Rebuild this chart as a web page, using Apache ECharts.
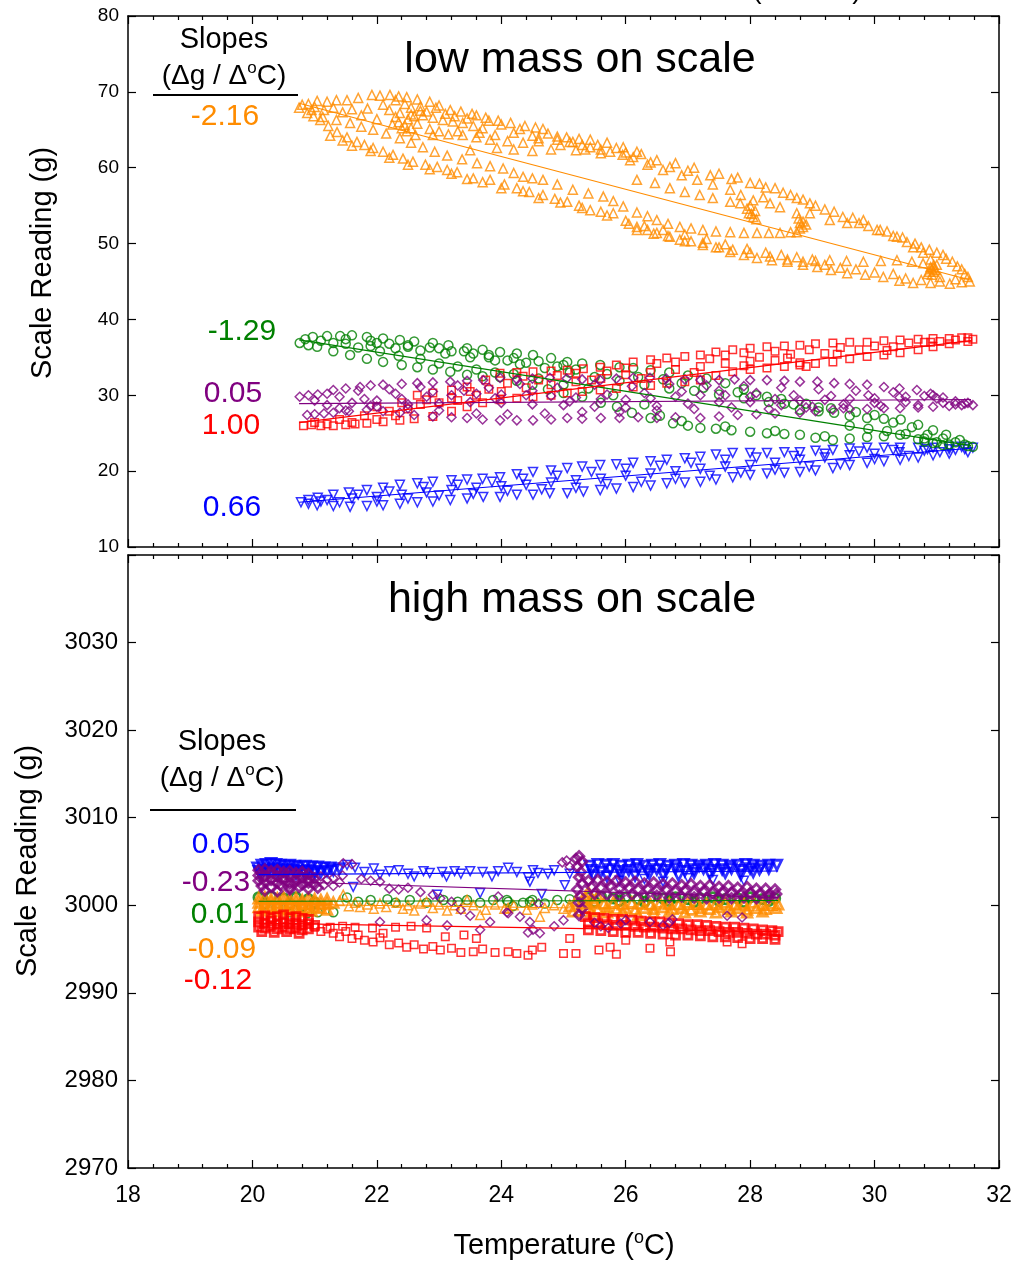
<!DOCTYPE html>
<html>
<head>
<meta charset="utf-8">
<script src="https://cdn.jsdelivr.net/npm/echarts/dist/echarts.min.js"></script>
<style>
html, body { margin: 0; padding: 0; background: #fff; }
#chart { width: 1018px; height: 1263px; }
</style>
</head>
<body>
<div id="chart"></div>
<script>
// ---------- shared axis settings ----------
const xTicks = [18, 20, 22, 24, 26, 28, 30, 32];
const topYTicks = [10, 20, 30, 40, 50, 60, 70, 80];
const bottomYTicks = [2970, 2980, 2990, 3000, 3010, 3020, 3030, 3040];

// ---------- low mass on scale: readings (g) vs temperature (°C) ----------
const topOrangeOuterUpper = [[20.75,67.9],[20.9,68.4],[21.04,68.8],[21.2,68.7],[21.35,68.9],[21.52,68.9],[21.7,69.2],[21.92,69.6],[22.05,69.5],[22.21,69.6],[22.35,69.4],[22.48,69.3],[22.65,69.0],[22.85,68.7],[23.0,68.2],[23.18,67.6],[23.35,67.4],[23.53,67.1],[23.75,66.6],[23.95,66.2],[24.15,65.9],[24.38,65.5],[24.55,65.3],[24.67,65.1],[24.9,64.1],[25.1,63.4],[25.3,63.0],[25.43,62.7],[25.6,62.4],[25.75,62.1],[25.95,61.7],[26.12,61.4],[26.4,60.7],[26.71,60.1],[27.0,59.6],[27.36,59.0],[27.7,58.5],[28.0,58.0],[28.25,57.4],[28.53,56.7],[28.75,56.0],[28.96,55.3],[29.2,54.5],[29.49,53.5],[29.75,52.7],[30.04,51.8],[30.3,51.0],[30.52,50.2],[30.75,49.5],[31.0,48.8],[31.15,48.0],[31.33,47.0],[31.45,46.0],[31.53,45.0]];
const topOrangeOuterLower = [[20.88,67.2],[20.98,66.8],[21.09,66.3],[21.22,65.5],[21.36,64.7],[21.52,64.0],[21.68,63.4],[21.8,63.0],[21.94,62.6],[22.1,62.1],[22.26,61.7],[22.42,61.2],[22.58,60.8],[22.78,60.4],[22.97,60.1],[23.13,59.7],[23.29,59.4],[23.55,58.6],[23.82,58.4],[24.05,57.8],[24.25,57.3],[24.45,56.8],[24.67,56.4],[24.86,55.9],[25.06,55.5],[25.25,55.0],[25.43,54.4],[25.6,54.2],[25.8,54.0],[26.0,53.0],[26.18,52.2],[26.35,51.8],[26.5,51.4],[26.68,51.0],[26.87,50.5],[27.05,50.3],[27.24,50.1],[27.45,49.5],[27.68,48.9],[27.9,48.5],[28.11,48.1],[28.35,47.8],[28.6,47.6],[28.85,47.2],[29.08,46.9],[29.3,46.5],[29.56,46.1],[29.85,45.9],[30.14,45.6],[30.4,45.1],[30.62,44.8],[30.9,44.8],[31.21,44.7],[31.4,44.9]];
const topOrangeInnerLower = [[20.8,68.3],[20.95,67.6],[21.13,66.7],[21.35,66.3],[21.57,65.9],[21.75,65.4],[21.94,65.0],[22.15,64.5],[22.37,63.9],[22.55,63.3],[22.74,62.7],[22.93,62.1],[23.13,61.6],[23.37,61.1],[23.61,60.6],[23.82,60.2],[24.03,59.9],[24.2,59.3],[24.35,58.8],[24.5,58.6],[24.67,58.4],[24.9,57.8],[25.15,57.1],[25.4,56.6],[25.64,56.2],[25.8,55.6],[25.96,54.9],[26.18,54.1],[26.35,53.6],[26.5,53.1],[26.68,52.6],[26.87,52.2],[27.05,52.0],[27.24,51.8],[27.45,51.6],[27.68,51.5],[27.9,51.4],[28.11,51.4],[28.3,51.4],[28.48,51.4],[28.65,51.5],[28.75,51.5],[28.85,52.2],[28.8,52.7]];
const topOrangeMidLower = [[26.18,51.8],[26.45,51.3],[26.71,50.9],[26.95,50.3],[27.24,49.8],[27.5,49.5],[27.72,49.2],[28.0,48.8],[28.32,48.3],[28.6,47.9],[28.85,47.6],[29.05,47.7],[29.28,47.8],[29.55,47.7],[29.82,47.6],[30.1,47.7],[30.36,47.8],[30.6,47.6],[30.78,47.4],[30.9,46.9],[30.95,46.3],[31.05,45.6],[30.85,46.0],[30.92,46.6]];
const topOrangeMidUpper = [[22.37,67.2],[22.55,67.0],[22.74,66.9],[22.9,66.6],[23.06,66.3],[23.22,66.1],[23.38,65.9],[23.55,65.5],[23.7,65.2],[22.9,64.3],[23.15,64.4],[23.38,64.3],[23.6,64.0],[23.82,63.7],[24.1,63.5],[24.35,63.3],[24.6,63.5],[24.9,63.7],[25.15,63.4],[25.43,63.7],[25.7,63.3],[25.96,62.7],[26.18,62.1],[23.5,62.3],[23.93,62.6],[24.2,62.4],[24.5,62.2],[24.8,62.4],[25.2,62.3],[25.6,61.9],[26.07,61.0],[26.35,60.4],[26.6,59.7],[26.9,59.0],[27.15,58.4],[27.4,57.8],[27.68,57.1],[27.85,56.4],[28.05,55.7],[28.32,55.3],[26.18,58.4],[26.47,58.0],[26.71,57.3],[26.95,56.8],[27.19,56.4],[27.4,56.0],[27.68,55.5],[27.84,55.3],[27.95,54.6],[28.05,53.5],[27.98,54.0],[28.21,56.1],[28.48,54.8],[28.75,54.0],[28.96,54.0],[29.28,53.1],[29.56,52.7],[29.82,53.1],[30.09,51.8],[30.36,50.9],[30.62,49.5],[30.78,48.8],[30.9,47.9],[30.95,47.2],[22.35,66.0],[22.45,65.6],[22.5,66.4],[22.55,65.2],[22.6,66.8],[22.4,65.2],[22.48,64.8],[22.3,66.7],[22.65,65.8],[22.7,67.5]];
const topOrangeFill = [[21.0,68.0],[21.15,67.6],[21.3,67.9],[21.45,67.3],[21.6,67.7],[21.75,66.9],[21.85,67.8],[22.0,66.4],[22.1,68.3],[22.2,67.6],[22.25,65.7],[22.3,68.9],[22.45,68.4],[22.55,67.9],[22.62,64.3],[22.7,68.1],[22.8,67.4],[22.85,65.1],[22.95,67.9],[23.0,64.8],[23.1,67.1],[23.25,66.8],[23.3,64.8],[23.45,66.5],[23.6,66.9],[23.65,64.6],[23.8,66.2],[23.9,64.3],[24.0,65.7],[24.2,64.6],[24.3,65.1],[24.5,64.2],[24.6,63.9],[24.75,64.5],[24.95,63.0],[25.05,64.0],[25.25,63.8],[25.35,62.4],[25.55,63.0],[25.85,62.6],[26.0,62.0],[26.25,61.8],[26.5,61.0],[26.8,60.6],[27.1,60.0],[27.5,59.2],[27.8,58.7],[28.15,57.9],[28.4,57.3],[28.65,56.4],[28.85,55.8],[29.05,55.0],[29.35,54.2],[29.65,53.4],[29.9,52.3],[30.2,51.6],[30.45,50.8],[30.65,50.0],[30.88,49.2],[31.1,48.5],[31.25,47.6],[31.4,46.6],[31.5,45.6],[21.25,64.2],[21.45,63.6],[21.6,62.9],[21.9,62.2],[22.2,61.3],[22.5,60.4],[22.85,59.8],[23.2,59.2],[23.45,58.5],[23.7,58.1],[24.0,57.3],[24.35,56.9],[24.6,56.0],[24.95,55.4],[25.3,54.7],[25.7,53.7],[26.05,52.6],[26.3,52.3],[26.6,51.8],[26.95,51.2],[27.3,50.6],[27.6,49.9],[27.95,49.3],[28.25,48.8],[28.5,48.5],[28.75,48.2],[29.0,47.9],[29.2,47.2],[29.45,46.8],[29.7,46.6],[30.0,46.2],[30.3,46.0],[30.5,45.4],[30.75,45.2],[31.05,45.0],[31.3,45.3],[30.88,46.3],[30.95,46.8],[31.0,47.2],[30.92,45.9],[30.98,46.5],[28.8,52.0],[28.85,52.9],[28.78,53.3],[28.9,52.5],[28.02,53.9],[28.08,54.3],[28.0,55.0],[28.1,53.2]];

const topGreenUpper = [[20.76,36.9],[20.85,37.4],[20.97,37.7],[21.2,37.8],[21.41,37.8],[21.6,37.9],[21.84,37.7],[22.1,37.5],[22.37,37.3],[22.6,37.1],[22.9,36.9],[23.15,36.6],[23.45,36.2],[23.7,36.0],[23.98,35.7],[24.25,35.5],[24.51,35.3],[24.8,34.9],[25.06,34.4],[25.3,34.2],[25.59,34.0],[25.9,33.7],[26.12,33.6],[26.4,33.3],[26.7,33.0],[27.0,32.6],[27.3,32.2],[27.6,31.6],[27.9,30.8],[28.27,29.8],[28.55,28.9],[28.8,28.1],[29.1,27.9],[29.35,27.7],[29.6,27.3],[29.88,27.0],[30.15,26.9],[30.42,26.8],[30.7,26.1],[30.94,25.4],[31.15,24.8],[31.37,24.1],[31.58,23.2]];
const topGreenLower = [[20.9,36.6],[21.04,36.4],[21.3,35.8],[21.57,35.3],[21.84,34.8],[22.1,34.4],[22.4,34.0],[22.65,33.7],[22.9,33.4],[23.18,33.1],[23.45,32.7],[23.7,32.5],[23.98,32.4],[24.25,31.9],[24.5,31.4],[24.75,30.8],[25.0,30.3],[25.3,29.8],[25.6,29.0],[25.86,28.5],[26.1,27.7],[26.4,27.0],[26.76,26.3],[27.0,26.0],[27.2,25.7],[27.45,25.6],[27.7,25.4],[28.0,25.2],[28.27,25.0],[28.55,24.9],[28.8,24.8],[29.05,24.4],[29.33,24.1],[29.6,24.3],[29.88,24.5],[30.15,24.6],[30.41,24.8],[30.7,24.2],[30.94,23.7],[31.2,23.5],[31.5,23.3]];
const topGreenMiddle = [[21.5,36.8],[21.9,36.5],[22.3,36.2],[22.7,35.9],[23.1,35.5],[23.5,35.0],[23.9,34.6],[24.3,34.1],[24.7,33.6],[25.1,33.0],[25.5,32.4],[25.9,31.9],[26.3,31.4],[26.7,30.9],[27.1,30.6],[27.5,30.1],[27.9,29.6],[28.3,29.1],[28.7,28.8],[29.1,28.4],[29.6,26.0],[29.9,25.6],[30.2,25.3],[30.5,24.9],[30.8,24.3],[31.0,23.8],[22.0,36.9],[22.5,36.6],[23.0,36.2],[23.4,35.8],[23.8,35.3],[24.2,34.9],[24.6,34.5],[25.0,34.0]];
const topGreenFill = [[21.1,37.2],[21.3,36.9],[21.5,37.4],[21.7,36.3],[21.9,37.2],[22.05,35.8],[22.2,36.8],[22.35,35.2],[22.5,36.4],[22.7,34.8],[22.85,36.3],[23.0,34.2],[23.2,35.8],[23.3,33.8],[23.55,35.5],[23.6,33.4],[23.8,35.0],[23.9,33.0],[24.1,34.6],[24.2,32.8],[24.4,34.3],[24.6,32.2],[24.9,33.8],[25.0,31.4],[25.2,33.4],[25.4,30.9],[25.7,32.8],[25.8,30.0],[26.2,32.4],[26.3,28.8],[26.6,32.1],[26.9,31.6],[27.25,31.0],[27.8,30.4],[28.1,30.0],[28.5,29.5],[28.9,28.9],[29.3,28.3],[29.7,27.8],[30.0,27.4],[30.3,26.4],[30.6,25.8],[30.85,24.8],[31.1,24.3],[31.3,23.8],[31.45,23.5],[29.2,24.6],[28.4,25.3],[27.6,25.9],[26.9,26.6],[26.55,27.3],[31.1,23.4],[30.8,23.9]];

const topRedLower = [[20.82,26.0],[20.95,26.1],[21.1,26.0],[21.3,26.0],[21.5,26.1],[21.65,26.2],[21.84,26.3],[22.1,26.5],[22.37,26.7],[22.6,26.9],[22.9,27.2],[23.2,27.9],[23.45,28.5],[23.7,29.0],[23.98,29.4],[24.25,29.6],[24.51,29.8],[24.8,30.0],[25.06,30.3],[25.3,30.5],[25.59,30.7],[25.85,30.9],[26.12,31.1],[26.4,31.3],[26.66,31.6],[26.95,31.8],[27.2,32.0],[27.45,32.6],[27.72,33.1],[28.0,33.4],[28.27,33.6],[28.55,33.8],[28.8,34.0],[29.05,34.2],[29.33,34.4],[29.6,34.8],[29.88,35.1],[30.15,35.3],[30.41,35.6],[30.7,36.0],[30.94,36.4],[31.2,36.8],[31.5,37.1]];
const topRedUpper = [[21.0,26.4],[21.4,26.8],[21.8,27.3],[22.2,27.9],[22.65,30.0],[22.9,30.3],[23.2,30.7],[23.45,31.1],[23.75,32.0],[23.98,32.9],[24.25,33.0],[24.51,33.1],[24.8,33.2],[25.06,33.3],[25.32,33.5],[25.59,33.7],[25.85,34.0],[26.12,34.4],[26.4,34.7],[26.66,34.9],[26.95,35.1],[27.2,35.3],[27.45,35.7],[27.72,36.0],[28.0,36.2],[28.27,36.4],[28.55,36.5],[28.8,36.6],[29.05,36.8],[29.33,36.9],[29.6,37.0],[29.88,37.0],[30.15,37.2],[30.41,37.3],[30.7,37.4],[30.94,37.5],[31.2,37.5],[31.4,37.6],[31.58,37.4]];
const topRedMiddle = [[22.0,28.5],[22.4,29.0],[22.8,29.4],[23.2,29.6],[23.6,30.0],[24.0,30.5],[24.4,31.0],[24.8,31.4],[25.2,31.8],[25.6,32.2],[26.0,32.7],[26.4,33.0],[26.8,33.4],[27.2,33.8],[27.6,34.2],[28.0,34.5],[28.4,34.6],[28.8,34.3],[28.9,33.8]];
const topRedFill = [[21.2,26.2],[21.6,26.4],[22.0,26.8],[22.3,27.3],[22.5,28.2],[22.7,28.8],[23.0,29.0],[23.3,29.3],[23.5,30.5],[23.8,30.8],[24.1,31.6],[24.35,32.5],[24.6,32.0],[24.9,32.6],[25.2,32.9],[25.45,32.0],[25.7,33.2],[26.0,33.6],[26.25,32.2],[26.5,34.2],[26.8,34.4],[27.1,33.0],[27.35,34.8],[27.6,35.3],[27.9,35.6],[28.15,35.0],[28.4,35.8],[28.65,35.4],[28.95,36.0],[29.2,35.5],[29.45,36.3],[29.75,36.0],[30.0,36.5],[30.3,36.4],[30.55,36.9],[30.8,37.0],[31.05,37.1],[31.3,37.3],[31.5,37.6],[27.9,33.9],[28.6,34.9],[29.4,35.4],[30.2,35.9],[30.9,37.0]];

const topPurpleUpper = [[20.76,29.8],[20.9,30.0],[21.05,30.1],[21.3,30.7],[21.5,30.9],[21.73,31.1],[21.9,31.3],[22.1,31.4],[22.4,31.5],[22.65,31.6],[22.9,31.7],[23.18,31.8],[23.45,31.9],[23.71,32.0],[23.98,32.3],[24.25,32.1],[24.5,32.2],[24.78,32.3],[25.05,32.2],[25.3,32.1],[25.59,32.0],[25.85,32.2],[26.12,32.3],[26.39,32.3],[26.65,32.2],[26.95,32.1],[27.2,32.0],[27.5,32.0],[27.75,32.1],[28.0,32.0],[28.27,32.0],[28.55,31.9],[28.8,31.8],[29.08,31.8],[29.35,31.6],[29.6,31.5],[29.88,31.4],[30.15,31.1],[30.4,30.9],[30.68,30.7],[30.94,30.0],[31.1,29.7],[31.3,29.2],[31.45,28.9],[31.58,28.7]];
const topPurpleLower = [[20.88,27.4],[21.0,27.5],[21.15,27.6],[21.3,27.7],[21.55,27.9],[21.84,28.1],[22.1,27.9],[22.37,27.7],[22.6,27.4],[22.9,27.2],[23.2,27.1],[23.45,27.0],[23.7,26.8],[23.98,26.7],[24.25,26.7],[24.51,26.7],[24.8,26.8],[25.06,27.0],[25.3,26.9],[25.6,27.0],[25.9,27.0],[26.2,27.1],[26.5,27.0],[26.8,27.1],[27.2,27.0],[27.5,27.2],[27.8,27.4],[28.1,27.5],[28.4,27.6],[28.8,27.7],[29.05,27.9],[29.33,28.1],[29.6,28.2],[29.88,28.2],[30.15,28.3],[30.41,28.3],[30.7,28.4],[30.94,28.5],[31.2,28.6],[31.4,28.7]];
const topPurpleMiddle = [[21.2,28.7],[21.6,29.0],[22.0,29.3],[22.4,29.5],[22.8,29.8],[23.2,30.0],[23.6,30.2],[24.0,30.1],[24.4,30.0],[24.8,29.9],[25.2,29.7],[25.6,29.5],[26.0,29.4],[26.4,29.6],[26.8,29.8],[27.2,30.0],[27.6,30.0],[28.0,29.8],[28.4,29.5],[28.8,29.3],[29.2,29.4],[29.6,29.5],[30.0,29.6],[30.4,29.7],[30.8,29.9],[31.0,29.6],[21.4,28.3],[21.9,28.6],[22.5,28.8],[23.0,28.9],[23.5,29.1],[24.0,29.0],[24.5,28.8],[25.0,28.7],[25.5,28.5],[26.0,28.4],[26.5,28.6],[27.0,28.9],[27.5,29.1],[28.0,29.1],[28.5,28.7],[29.0,28.5],[29.5,28.8],[30.0,29.0],[30.5,29.1]];
const topPurpleFill = [[21.0,29.3],[21.2,30.2],[21.4,29.8],[21.5,28.0],[21.7,30.6],[21.8,29.5],[22.0,28.5],[22.2,30.8],[22.3,30.2],[22.5,28.3],[22.7,31.1],[22.9,30.5],[23.0,28.0],[23.3,31.3],[23.4,30.6],[23.6,27.6],[23.8,31.0],[23.9,29.6],[24.1,27.5],[24.3,31.5],[24.5,30.6],[24.7,27.6],[24.9,31.0],[25.1,29.2],[25.3,27.8],[25.5,31.4],[25.7,30.1],[25.9,27.8],[26.1,31.2],[26.3,30.3],[26.5,28.0],[26.7,31.5],[26.9,30.5],[27.1,28.2],[27.3,31.3],[27.5,30.6],[27.7,28.4],[27.9,31.2],[28.1,30.3],[28.3,28.2],[28.5,31.0],[28.7,30.0],[28.9,28.4],[29.1,30.8],[29.3,29.9],[29.5,28.3],[29.7,30.6],[29.9,30.0],[30.1,28.6],[30.3,30.4],[30.5,29.8],[30.7,28.7],[30.9,30.2],[31.1,29.0],[31.3,28.8],[31.5,29.0]];

const topBlueUpper = [[20.78,15.9],[20.9,16.2],[21.05,16.5],[21.3,16.9],[21.55,17.2],[21.84,17.5],[22.1,17.8],[22.37,18.2],[22.65,18.4],[22.9,18.6],[23.2,18.8],[23.45,18.9],[23.7,19.0],[23.98,19.2],[24.25,19.6],[24.51,19.9],[24.8,20.1],[25.06,20.4],[25.3,20.6],[25.59,20.8],[25.85,20.9],[26.12,21.1],[26.4,21.3],[26.66,21.5],[26.95,21.7],[27.2,21.9],[27.45,22.2],[27.72,22.4],[28.0,22.4],[28.27,22.4],[28.55,22.5],[28.8,22.5],[29.05,22.7],[29.33,22.8],[29.6,23.0],[29.88,23.1],[30.15,23.1],[30.41,23.1],[30.7,23.1],[30.94,23.1],[31.2,23.2],[31.4,23.2],[31.58,23.1]];
const topBlueLower = [[20.9,15.7],[21.04,15.5],[21.3,15.4],[21.57,15.3],[21.84,15.4],[22.1,15.5],[22.37,15.7],[22.65,15.9],[22.9,16.0],[23.18,16.2],[23.45,16.4],[23.71,16.6],[23.98,16.6],[24.25,16.9],[24.51,16.9],[24.78,17.1],[25.06,17.1],[25.32,17.3],[25.59,17.5],[25.85,17.7],[26.12,17.9],[26.4,18.1],[26.66,18.4],[26.95,18.5],[27.2,18.6],[27.45,18.9],[27.72,19.2],[28.0,19.5],[28.27,19.7],[28.55,19.8],[28.8,19.9],[29.05,20.1],[29.33,20.4],[29.6,20.8],[29.88,21.1],[30.15,21.3],[30.41,21.5],[30.7,21.8],[30.94,22.1],[31.2,22.3],[31.5,22.5]];
const topBlueMiddle = [[21.2,16.2],[21.6,16.4],[22.0,16.6],[22.4,16.9],[22.8,17.2],[23.2,17.5],[23.6,17.8],[24.0,18.0],[24.4,18.2],[24.8,18.5],[25.2,18.8],[25.6,19.0],[26.0,19.4],[26.4,19.7],[26.8,20.0],[27.2,20.3],[27.6,20.6],[28.0,20.8],[28.4,21.1],[28.8,21.5],[29.2,21.8],[29.6,22.1],[30.0,22.3],[30.4,22.5],[30.8,22.7],[31.2,22.9]];
const topBlueFill = [[21.1,16.0],[21.4,15.9],[21.7,16.9],[22.0,16.0],[22.2,17.3],[22.5,16.4],[22.75,17.9],[23.0,16.8],[23.3,18.2],[23.55,17.0],[23.85,18.6],[24.1,17.4],[24.35,19.0],[24.65,17.6],[24.9,19.4],[25.2,17.8],[25.45,19.9],[25.7,18.3],[26.0,20.3],[26.25,18.6],[26.55,20.7],[26.8,19.0],[27.05,21.1],[27.35,19.4],[27.6,21.5],[27.85,19.8],[28.1,21.8],[28.4,20.2],[28.7,22.0],[28.95,20.6],[29.2,22.3],[29.45,20.9],[29.75,22.6],[30.0,21.6],[30.3,22.8],[30.55,22.0],[30.85,22.9],[31.05,22.5],[31.3,22.8],[31.45,22.9]];

// ---------- high mass on scale ----------
const botBlueLeft = [[20.08,3004.3],[20.15,3004.6],[20.22,3004.7],[20.3,3004.8],[20.38,3004.7],[20.45,3004.6],[20.52,3004.5],[20.6,3004.6],[20.68,3004.5],[20.75,3004.4],[20.85,3004.5],[20.95,3004.4],[21.05,3004.4],[21.15,3004.3],[21.25,3004.3],[20.1,3003.9],[20.18,3004.0],[20.26,3004.1],[20.34,3004.2],[20.42,3004.1],[20.5,3004.0],[20.58,3004.1],[20.66,3004.0],[20.74,3003.9],[20.82,3003.9],[20.9,3004.0],[21.0,3003.9],[21.1,3003.8],[21.2,3003.9],[21.3,3004.0],[21.4,3004.2],[20.12,3003.6],[20.25,3003.7],[20.4,3003.6],[20.55,3003.7],[20.7,3003.6],[20.85,3003.5],[21.0,3003.6]];
const botBlueScatter = [[21.52,3004.6],[21.65,3004.3],[21.62,3002.1],[21.8,3003.8],[21.95,3004.2],[22.05,3003.5],[22.2,3003.9],[22.35,3004.0],[22.5,3003.6],[22.6,3003.3],[22.75,3003.9],[22.85,3003.7],[22.97,3001.2],[23.05,3003.8],[23.12,3003.3],[23.25,3003.9],[23.35,3003.6],[23.5,3003.9],[23.66,3001.4],[23.7,3003.8],[23.85,3003.3],[23.95,3003.9],[24.11,3004.3],[24.25,3003.8],[24.43,3003.2],[24.46,3002.7],[24.51,3004.0],[24.59,3003.7],[24.65,3001.3],[24.75,3003.6],[24.85,3004.0],[25.02,3002.3],[25.1,3003.6]];
const botBlueRight = [[25.42,3004.5],[25.55,3004.7],[25.68,3004.6],[25.8,3004.7],[25.93,3004.5],[26.05,3004.6],[26.18,3004.7],[26.3,3004.5],[26.43,3004.6],[26.55,3004.7],[26.68,3004.5],[26.8,3004.6],[26.93,3004.7],[27.05,3004.6],[27.18,3004.5],[27.3,3004.6],[27.43,3004.7],[27.55,3004.6],[27.68,3004.5],[27.8,3004.6],[27.93,3004.7],[28.05,3004.6],[28.18,3004.5],[28.3,3004.6],[28.43,3004.6],[25.45,3004.0],[25.6,3003.8],[25.75,3004.1],[25.9,3003.9],[26.05,3004.0],[26.2,3004.2],[26.35,3003.9],[26.5,3004.1],[26.65,3004.0],[26.8,3004.2],[26.95,3003.9],[27.1,3004.1],[27.25,3004.2],[27.4,3004.0],[27.55,3004.1],[27.7,3004.2],[27.85,3004.0],[28.0,3004.2],[28.15,3004.1],[28.3,3004.2],[25.48,3003.4],[25.7,3003.3],[25.92,3003.5],[26.15,3003.4],[26.38,3003.6],[26.6,3003.5],[26.85,3003.4],[27.1,3003.7],[27.35,3003.6],[27.6,3003.7],[27.85,3003.5],[28.05,3003.8]];
const botBlueRightLoose = [[25.9,3002.8],[26.6,3002.7],[27.4,3002.9],[27.9,3002.8],[26.3,3003.0],[27.0,3003.1]];

const botPurpleLeft = [[20.1,3004.0],[20.2,3004.1],[20.3,3003.9],[20.4,3004.0],[20.5,3003.8],[20.6,3003.9],[20.7,3003.7],[20.8,3003.8],[20.9,3003.6],[20.1,3003.4],[20.2,3003.3],[20.3,3003.5],[20.4,3003.3],[20.5,3003.2],[20.6,3003.4],[20.7,3003.1],[20.8,3003.2],[20.9,3003.0],[21.0,3003.1],[20.1,3002.8],[20.2,3002.7],[20.3,3002.9],[20.4,3002.6],[20.5,3002.8],[20.6,3002.5],[20.7,3002.7],[20.8,3002.4],[20.9,3002.6],[21.0,3002.4],[20.15,3002.2],[20.3,3002.1],[20.45,3002.3],[20.6,3002.0],[20.75,3002.1],[20.9,3001.9],[21.05,3002.0],[20.2,3001.7],[20.4,3001.6],[20.6,3001.8]];
const botPurpleLeftLoose = [[21.1,3003.3],[21.2,3002.9],[21.3,3003.1],[21.4,3002.6],[21.15,3002.3],[21.3,3002.2],[21.45,3003.4]];
const botPurpleScatter = [[21.46,3004.8],[21.6,3004.7],[21.75,3003.0],[21.9,3002.8],[22.05,3002.7],[22.05,2998.1],[22.2,3001.9],[22.35,3001.8],[22.5,3002.0],[22.7,3001.5],[22.8,2998.3],[22.9,3001.2],[23.02,3000.8],[23.13,2997.7],[23.2,3000.4],[23.35,2999.5],[23.5,2998.8],[23.66,2997.2],[23.82,2998.1],[23.95,3001.0],[24.09,2999.2],[24.11,2999.1],[24.3,2998.7],[24.43,2996.9],[24.46,2998.1],[24.51,2997.2],[24.62,2996.8],[24.6,3000.2],[24.85,2997.6],[25.0,2998.3],[25.05,3005.1],[25.1,3004.4],[24.98,3004.9],[25.5,2998.0],[25.6,2997.6],[25.72,2997.4],[25.92,2997.9],[26.0,2998.3],[26.39,2998.1],[26.6,2997.7],[26.7,2998.0],[26.75,2998.4],[27.63,2998.8],[27.87,2998.6]];
const botPurpleRight = [[25.4,3002.8],[25.55,3002.9],[25.7,3002.7],[25.85,3002.8],[26.0,3002.6],[26.15,3002.7],[26.3,3002.5],[26.45,3002.6],[26.6,3002.4],[26.75,3002.5],[26.9,3002.3],[27.05,3002.4],[27.2,3002.2],[27.35,3002.3],[27.5,3002.1],[27.65,3002.2],[27.8,3002.0],[27.95,3002.1],[28.1,3001.9],[28.25,3001.9],[28.4,3001.8],[25.45,3002.1],[25.6,3002.0],[25.75,3002.2],[25.9,3001.9],[26.05,3002.0],[26.2,3001.8],[26.35,3001.9],[26.5,3001.7],[26.65,3001.8],[26.8,3001.6],[26.95,3001.7],[27.1,3001.5],[27.25,3001.6],[27.4,3001.4],[27.55,3001.5],[27.7,3001.4],[27.85,3001.3],[28.0,3001.4],[28.15,3001.3],[28.3,3001.2],[28.42,3001.3],[25.5,3001.3],[25.7,3001.2],[25.9,3001.1],[26.1,3001.2],[26.3,3001.0],[26.5,3001.1],[26.7,3000.9],[26.9,3001.0],[27.1,3000.9],[27.3,3000.8],[27.5,3000.9],[27.7,3000.8],[27.9,3000.9],[28.1,3000.8],[28.3,3000.9],[25.2,3005.3],[25.25,3005.6],[25.3,3005.0],[25.22,3004.4],[25.28,3003.8],[25.25,3003.2],[25.3,3002.5],[25.22,3001.8],[25.27,3001.0],[25.25,3000.3],[25.3,2999.6],[25.25,2998.9]];

const botGreenLeft = [[20.1,3000.9],[20.3,3001.0],[20.5,3000.8],[20.7,3000.9],[20.9,3000.7],[20.2,3000.2],[20.6,3000.1],[21.0,3000.3],[20.4,2999.8],[20.8,2999.9]];
const botGreenScatter = [[20.6,2999.2],[20.88,2999.1],[21.05,2999.2],[21.3,2999.2],[21.52,3000.9],[21.7,3000.4],[21.9,3000.6],[22.17,3000.7],[22.3,3000.3],[22.53,3000.6],[22.8,3000.3],[23.07,3000.6],[23.3,3000.4],[23.45,3000.6],[23.66,3000.3],[23.87,3000.6],[24.09,3000.6],[24.11,3000.4],[24.19,2999.9],[24.35,3000.3],[24.46,3000.4],[24.5,3000.6],[24.7,3000.2],[24.9,3000.6],[25.1,3000.7]];
const botGreenRight = [[25.4,3000.9],[25.6,3001.0],[25.8,3000.8],[26.0,3000.9],[26.2,3000.7],[26.4,3000.9],[26.6,3000.8],[26.8,3000.9],[27.0,3000.7],[27.2,3000.8],[27.4,3000.9],[27.6,3000.7],[27.8,3000.8],[28.0,3000.9],[28.2,3000.7],[28.4,3000.8],[25.5,3000.4],[25.9,3000.5],[26.3,3000.4],[26.7,3000.5],[27.1,3000.4],[27.5,3000.5],[27.9,3000.4],[28.3,3000.5]];

const botOrangeLeft = [[20.1,3000.8],[20.2,3000.9],[20.3,3000.7],[20.4,3000.8],[20.5,3000.9],[20.6,3000.7],[20.7,3000.8],[20.8,3000.6],[20.9,3000.8],[21.0,3000.7],[21.1,3000.6],[21.2,3000.7],[20.1,3000.3],[20.2,3000.2],[20.3,3000.4],[20.4,3000.2],[20.5,3000.3],[20.6,3000.1],[20.7,3000.3],[20.8,3000.2],[20.9,3000.1],[21.0,3000.3],[21.1,3000.1],[21.2,3000.2],[21.3,3000.3],[20.1,2999.8],[20.2,2999.7],[20.3,2999.9],[20.4,2999.7],[20.5,2999.8],[20.6,2999.6],[20.7,2999.8],[20.8,2999.7],[20.9,2999.6],[21.0,2999.8],[21.1,2999.7],[21.2,2999.5],[20.15,2999.4],[20.35,2999.3],[20.55,2999.4],[20.75,2999.3],[20.95,2999.4]];
const botOrangeScatter = [[21.4,3000.5],[21.46,3001.2],[21.55,2999.9],[21.65,3000.3],[21.73,2999.8],[21.85,3000.1],[21.95,2999.6],[22.05,3000.2],[22.15,2999.8],[22.32,3000.3],[22.42,2999.6],[22.5,3000.0],[22.6,2999.4],[22.7,3000.2],[22.8,3000.4],[22.9,2999.7],[23.0,3000.1],[23.13,2999.4],[23.25,3000.0],[23.35,2999.6],[23.45,3000.6],[23.55,3000.0],[23.66,2998.9],[23.75,2999.5],[23.9,3000.1],[24.05,2999.6],[24.11,2999.7],[24.2,3000.0],[24.41,2999.5],[24.5,3000.1],[24.62,2998.7],[24.7,2999.7],[24.85,3000.0],[25.0,2999.6]];
const botOrangeRight = [[25.35,3000.2],[25.5,3000.4],[25.65,3000.2],[25.8,3000.3],[25.95,3000.1],[26.1,3000.3],[26.25,3000.2],[26.4,3000.1],[26.55,3000.3],[26.7,3000.2],[26.85,3000.1],[27.0,3000.3],[27.15,3000.2],[27.3,3000.1],[27.45,3000.2],[27.6,3000.3],[27.75,3000.1],[27.9,3000.2],[28.05,3000.3],[28.2,3000.1],[28.35,3000.2],[28.45,3000.1],[25.4,2999.7],[25.55,2999.6],[25.7,2999.8],[25.85,2999.6],[26.0,2999.7],[26.15,2999.5],[26.3,2999.7],[26.45,2999.6],[26.6,2999.8],[26.75,2999.6],[26.9,2999.7],[27.05,2999.5],[27.2,2999.7],[27.35,2999.6],[27.5,2999.8],[27.65,2999.6],[27.8,2999.7],[27.95,2999.5],[28.1,2999.7],[28.25,2999.6],[28.42,2999.7],[25.45,2999.3],[25.7,2999.2],[25.95,2999.3],[26.2,2998.9],[26.45,2999.2],[26.7,2999.3],[26.95,2999.2],[27.2,2999.3],[27.45,2999.2],[27.7,2999.3],[27.95,2999.2],[28.2,2999.3],[25.3,3000.6],[25.35,3001.0],[25.4,3001.5],[25.45,3000.8],[25.2,3000.5],[25.25,2999.4],[25.55,3001.1],[25.1,2999.9],[25.15,2999.3]];

const botRedLeft = [[20.1,2998.7],[20.2,2998.8],[20.3,2998.6],[20.4,2998.7],[20.5,2998.9],[20.6,2998.6],[20.7,2998.7],[20.8,2998.5],[20.9,2998.4],[20.1,2998.1],[20.2,2998.0],[20.3,2998.2],[20.4,2997.9],[20.5,2998.1],[20.6,2997.9],[20.7,2998.0],[20.8,2997.8],[20.9,2997.9],[21.0,2997.7],[20.1,2997.5],[20.2,2997.4],[20.3,2997.6],[20.4,2997.3],[20.5,2997.5],[20.6,2997.3],[20.7,2997.4],[20.8,2997.2],[20.9,2997.3],[20.15,2997.0],[20.35,2996.9],[20.55,2997.0],[20.75,2996.8]];
const botRedScatter = [[21.0,2997.5],[21.1,2997.0],[21.2,2997.3],[21.3,2996.8],[21.4,2996.4],[21.5,2997.0],[21.6,2996.2],[21.7,2996.6],[21.8,2996.0],[21.94,2995.8],[22.05,2996.3],[22.2,2995.5],[22.35,2995.7],[22.48,2995.2],[22.6,2995.5],[22.75,2995.0],[22.9,2995.3],[23.02,2994.9],[23.2,2995.1],[23.35,2994.6],[23.55,2994.7],[23.7,2995.0],[23.9,2994.6],[24.11,2994.7],[24.25,2994.5],[24.43,2994.3],[24.5,2994.9],[24.65,2995.2],[25.0,2994.5],[21.25,2997.5],[21.45,2997.6],[21.65,2997.5],[21.93,2997.4],[22.1,2996.8],[22.3,2997.5],[22.55,2997.6],[22.8,2997.4],[23.1,2996.4],[23.4,2996.6],[23.6,2996.2],[25.2,2994.5],[25.57,2994.9],[25.75,2995.2],[25.85,2994.4],[26.0,2996.0],[26.39,2995.1],[26.71,2995.8],[26.72,2994.7],[27.63,2995.8],[27.87,2995.6],[25.1,2996.2]];
const botRedRight = [[25.35,2998.7],[25.5,2998.6],[25.65,2998.5],[25.8,2998.4],[25.95,2998.4],[26.1,2998.3],[26.25,2998.2],[26.4,2998.1],[26.55,2998.1],[26.7,2998.0],[26.85,2997.9],[27.0,2997.8],[27.15,2997.8],[27.3,2997.7],[27.45,2997.6],[27.6,2997.5],[27.75,2997.5],[27.9,2997.4],[28.05,2997.3],[28.2,2997.2],[28.35,2997.1],[28.45,2997.0],[25.4,2998.0],[25.55,2997.9],[25.7,2997.8],[25.85,2997.7],[26.0,2997.7],[26.15,2997.6],[26.3,2997.5],[26.45,2997.5],[26.6,2997.4],[26.75,2997.3],[26.9,2997.3],[27.05,2997.2],[27.2,2997.1],[27.35,2997.1],[27.5,2997.0],[27.65,2996.9],[27.8,2996.9],[27.95,2996.8],[28.1,2996.7],[28.25,2996.7],[28.4,2996.6],[25.4,2997.2],[25.6,2997.1],[25.8,2997.0],[26.0,2996.9],[26.2,2996.9],[26.4,2996.8],[26.6,2996.7],[26.8,2996.6],[27.0,2996.6],[27.2,2996.5],[27.4,2996.4],[27.6,2996.4],[27.8,2996.3],[28.0,2996.2],[28.2,2996.2],[28.4,2996.1]];

// ---------- linear fits: slope (g per °C) ----------
const seriesNames = ['orange', 'green', 'purple', 'red', 'blue'];
const seriesColors = { orange: '#ff8c00', green: '#008000', purple: '#800080', red: '#ff0000', blue: '#0000ff' };
const topSlopes = { orange: -2.16, green: -1.29, purple: 0.05, red: 1.00, blue: 0.66 };
const topFitStart = { orange: 68.5, green: 37.3, purple: 28.9, red: 26.4, blue: 15.9 };   // fit value at 20.75 °C
const topFitRange = [20.75, 31.55];
const bottomSlopes = { blue: 0.05, purple: -0.23, green: 0.01, orange: -0.09, red: -0.12 };
const bottomFitAt24 = { blue: 3003.7, purple: 3001.9, green: 3000.5, orange: 2999.8, red: 2997.5 }; // fit value at 24 °C
const bottomFitRange = [20.1, 28.45];

const FONT = '"Liberation Sans", Arial, Helvetica, sans-serif';
const symbols = { orange: ['triangle', 0], green: ['circle', 0], purple: ['diamond', 0], red: ['rect', 0], blue: ['triangle', 180] };

// dense: heavily overplotted runs, drawn with a heavier outline so they read as solid
function scatter(key, data, gi, dense) {
  const size = (key === 'red' ? 7.5 : 9) + (dense ? 0.5 : 0);
  return {
    type: 'scatter', xAxisIndex: gi * 2, yAxisIndex: gi * 2, data: data,
    symbol: symbols[key][0], symbolRotate: symbols[key][1], symbolSize: size,
    itemStyle: { color: 'rgba(0,0,0,0)', borderColor: seriesColors[key], borderWidth: dense ? 2.8 : 1.5 },
    silent: true, animation: false
  };
}
function fitLine(key, gi, p0, slope, range) {
  const x0 = range[0], x1 = range[1];
  const y0 = p0[1] + slope * (x0 - p0[0]);
  const y1 = p0[1] + slope * (x1 - p0[0]);
  return {
    type: 'line', xAxisIndex: gi * 2, yAxisIndex: gi * 2, data: [[x0, y0], [x1, y1]],
    showSymbol: false, lineStyle: { color: seriesColors[key], width: 1.1 }, silent: true, animation: false, z: 3
  };
}

function xAxisDef(gi, pos, showLabels) {
  return {
    type: 'value', gridIndex: gi, position: pos, min: xTicks[0], max: xTicks[xTicks.length - 1], interval: xTicks[1] - xTicks[0],
    axisLine: { show: true, onZero: false, lineStyle: { color: '#000', width: 1.5 } },
    axisTick: { show: true, inside: true, length: 8, lineStyle: { color: '#000', width: 1.2 } },
    minorTick: { show: true, splitNumber: 5, length: 4, lineStyle: { color: '#000', width: 1.2 } },
    splitLine: { show: false }, minorSplitLine: { show: false },
    axisLabel: { show: showLabels, margin: 16, color: '#000', fontSize: 23, fontFamily: FONT }
  };
}
function yAxisDef(gi, pos, ticks, showLabels, fontSize, margin) {
  const maxV = ticks[ticks.length - 1];
  return {
    type: 'value', gridIndex: gi, position: pos, min: ticks[0], max: maxV, interval: ticks[1] - ticks[0],
    axisLine: { show: true, onZero: false, lineStyle: { color: '#000', width: 1.5 } },
    axisTick: { show: true, inside: true, length: 8, lineStyle: { color: '#000', width: 1.2 } },
    splitLine: { show: false },
    axisLabel: {
      show: showLabels, margin: margin, color: '#000', fontSize: fontSize, fontFamily: FONT,
      formatter: function (v) { return (gi === 1 && v === maxV) ? '' : String(v); }
    }
  };
}

function text(str, x, y, size, color, extra) {
  const style = Object.assign({
    text: str, x: 0, y: 0, fill: color, font: size + 'px ' + FONT,
    align: 'center', verticalAlign: 'middle', textAlign: 'center', textVerticalAlign: 'middle'
  }, extra || {});
  return { type: 'text', x: x, y: y, style: style, silent: true };
}
function richSup(size) {
  return {
    sup: { fontSize: Math.round(size * 0.62), fontFamily: FONT, verticalAlign: 'top', lineHeight: size + 4 },
    n: { fontSize: size, fontFamily: FONT, lineHeight: size + 4 }
  };
}
function slopeHeader(cx, cy) {
  return [
    text('Slopes', cx, cy, 29, '#000'),
    text('{n|(Δg / Δ}{sup|o}{n|C)}', cx, cy + 36, 28, '#000', { rich: richSup(28) }),
  ];
}
function fmt(v) { return v.toFixed(2); }

const series = [];
// low mass panel (drawn back to front)
[topBlueUpper, topBlueLower, topBlueMiddle, topBlueFill].forEach(d => series.push(scatter('blue', d, 0)));
[topGreenUpper, topGreenLower, topGreenMiddle, topGreenFill].forEach(d => series.push(scatter('green', d, 0)));
[topRedLower, topRedUpper, topRedMiddle, topRedFill].forEach(d => series.push(scatter('red', d, 0)));
[topPurpleUpper, topPurpleLower, topPurpleMiddle, topPurpleFill].forEach(d => series.push(scatter('purple', d, 0)));
[topOrangeOuterUpper, topOrangeOuterLower, topOrangeInnerLower, topOrangeMidLower, topOrangeMidUpper, topOrangeFill].forEach(d => series.push(scatter('orange', d, 0)));
seriesNames.forEach(k => series.push(fitLine(k, 0, [topFitRange[0], topFitStart[k]], topSlopes[k], topFitRange)));
// high mass panel
series.push(scatter('blue', botBlueLeft, 1, true), scatter('blue', botBlueScatter, 1), scatter('blue', botBlueRight, 1, true), scatter('blue', botBlueRightLoose, 1));
series.push(scatter('green', botGreenLeft, 1, true), scatter('green', botGreenScatter, 1), scatter('green', botGreenRight, 1, true));
series.push(scatter('orange', botOrangeLeft, 1, true), scatter('orange', botOrangeScatter, 1), scatter('orange', botOrangeRight, 1, true));
series.push(scatter('red', botRedLeft, 1, true), scatter('red', botRedScatter, 1), scatter('red', botRedRight, 1, true));
series.push(scatter('purple', botPurpleLeft, 1, true), scatter('purple', botPurpleLeftLoose, 1), scatter('purple', botPurpleScatter, 1), scatter('purple', botPurpleRight, 1, true));
seriesNames.forEach(k => series.push(fitLine(k, 1, [24, bottomFitAt24[k]], bottomSlopes[k], bottomFitRange)));

const graphics = [
  text('low mass on scale', 580, 60, 43, '#000'),
  text('high mass on scale', 572, 600, 43, '#000'),
  ...slopeHeader(224, 40),
  { type: 'line', shape: { x1: 153, y1: 95, x2: 298, y2: 95 }, style: { stroke: '#000', lineWidth: 2 }, silent: true },
  text(fmt(topSlopes.orange), 225, 117, 30, seriesColors.orange),
  text(fmt(topSlopes.green), 242, 332, 30, seriesColors.green),
  text(fmt(topSlopes.purple), 233, 394, 30, seriesColors.purple),
  text(fmt(topSlopes.red), 231, 426, 30, seriesColors.red),
  text(fmt(topSlopes.blue), 232, 508, 30, seriesColors.blue),
  ...slopeHeader(222, 742),
  { type: 'line', shape: { x1: 150, y1: 810, x2: 296, y2: 810 }, style: { stroke: '#000', lineWidth: 2 }, silent: true },
  text(fmt(bottomSlopes.blue), 221, 845, 30, seriesColors.blue),
  text(fmt(bottomSlopes.purple), 216, 883, 30, seriesColors.purple),
  text(fmt(bottomSlopes.green), 220, 915, 30, seriesColors.green),
  text(fmt(bottomSlopes.orange), 222, 950, 30, seriesColors.orange),
  text(fmt(bottomSlopes.red), 218, 981, 30, seriesColors.red),
  Object.assign(text('Scale Reading (g)', 0, 0, 29, '#000'), { x: 43, y: 263, rotation: Math.PI / 2 }),
  Object.assign(text('Scale Reading (g)', 0, 0, 29, '#000'), { x: 28, y: 861, rotation: Math.PI / 2 }),
  text('{n|Temperature (}{sup|o}{n|C)}', 564, 1246, 29, '#000', { rich: richSup(29) }),
  text('(', 757, -10, 28, '#000'),
  text(')', 857, -10, 28, '#000')
];

const chart = echarts.init(document.getElementById('chart'), null, { renderer: 'canvas' });
chart.setOption({
  animation: false,
  backgroundColor: '#fff',
  grid: [
    { left: 128, top: 16, width: 871, height: 531, containLabel: false },
    { left: 128, top: 555, width: 871, height: 613, containLabel: false }
  ],
  xAxis: [xAxisDef(0, 'bottom', false), xAxisDef(0, 'top', false), xAxisDef(1, 'bottom', true), xAxisDef(1, 'top', false)],
  yAxis: [
    yAxisDef(0, 'left', topYTicks, true, 19, 9), yAxisDef(0, 'right', topYTicks, false, 19, 9),
    yAxisDef(1, 'left', bottomYTicks, true, 24, 10), yAxisDef(1, 'right', bottomYTicks, false, 24, 10)
  ],
  series: series,
  graphic: graphics
});
</script>
</body>
</html>
